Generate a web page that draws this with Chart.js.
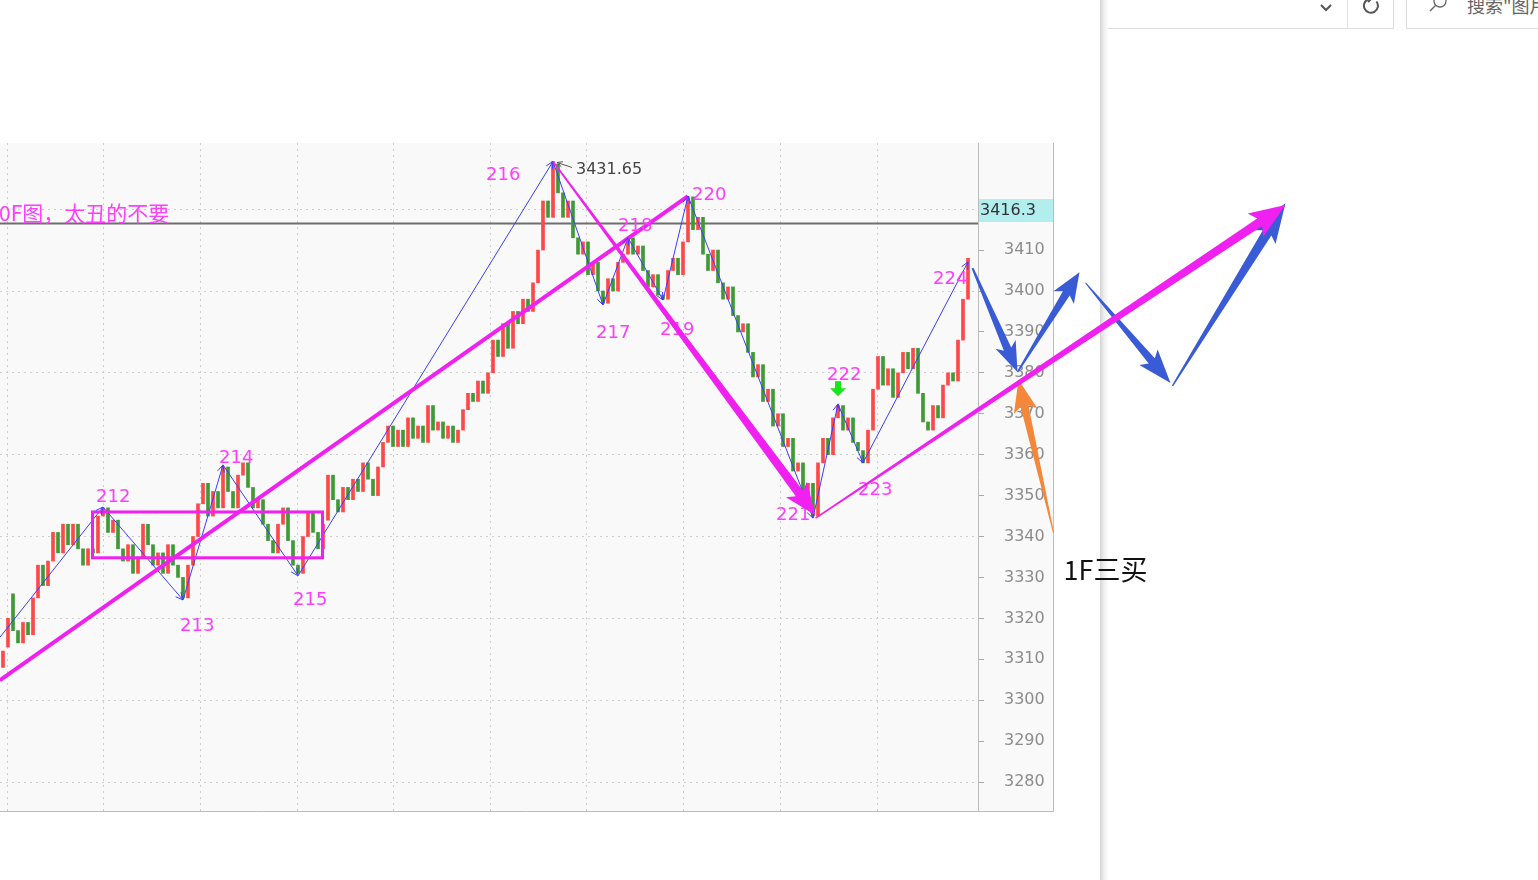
<!DOCTYPE html>
<html>
<head>
<meta charset="utf-8">
<script src="https://cdn.jsdelivr.net/npm/chart.js@4.4.1/dist/chart.umd.min.js"></script>
<style>
  html, body { margin: 0; padding: 0; background: #fff; overflow: hidden; width: 1538px; height: 880px; }
  #kline { position: absolute; left: 0; top: 0; width: 1538px; height: 880px; z-index: 2; }
  .sep { position: absolute; left: 1100px; top: 0; width: 9px; height: 880px; z-index: 1;
         background: linear-gradient(to right, #d4d4d4, #eeeeee 45%, #ffffff); }
  .addr { position: absolute; left: 1108px; top: -1px; width: 285px; height: 29px; z-index: 1;
          border-right: 1px solid #dcdcdc; border-bottom: 1px solid #dcdcdc; }
  .addr .div { position: absolute; left: 239px; top: 0; width: 1px; height: 29px; background: #e2e2e2; }
  .search { position: absolute; left: 1406px; top: -1px; width: 150px; height: 29px; z-index: 1;
            border-left: 1px solid #dcdcdc; border-bottom: 1px solid #dcdcdc; overflow: hidden; }
  .search span { position: absolute; left: 60px; top: -7px; font: 18px "Noto Sans CJK SC", sans-serif;
                 color: #666; white-space: nowrap; }
  svg { position: absolute; }
</style>
</head>
<body>
<canvas id="kline" width="1538" height="880"></canvas>
<div class="sep"></div>
<div class="addr">
  <svg style="left:210px;top:3px" width="16" height="12"><polyline points="3,3 8,8 13,3" fill="none" stroke="#555" stroke-width="2"/></svg>
  <div class="div"></div>
  <svg style="left:253px;top:-4px" width="22" height="22"><path d="M15.5 6.5 A7 7 0 1 1 8 4" fill="none" stroke="#555" stroke-width="2"/><polyline points="7,1 10,4 7,7" fill="none" stroke="#555" stroke-width="2"/></svg>
</div>
<div class="search">
  <svg style="left:20px;top:-6px" width="22" height="22"><circle cx="13" cy="8" r="6" fill="none" stroke="#666" stroke-width="1.3"/><line x1="8.5" y1="12.5" x2="3" y2="18" stroke="#666" stroke-width="1.5"/></svg>
  <span>搜索"图片"</span>
</div>
<script>
// one-minute candles, price
const opens = [
  3308, 3313, 3326, 3317, 3314, 3319, 3316, 3325, 3333, 3328, 3334, 3341, 3336, 3343, 3338, 3343, 3337, 3333, 3337, 3336,
  3345, 3347, 3341, 3344, 3337, 3334, 3338, 3331, 3335, 3343, 3338, 3333, 3336, 3331, 3338, 3333, 3330, 3325, 3333, 3340,
  3348, 3353, 3345, 3351, 3347, 3357, 3351, 3347, 3355, 3358, 3352, 3347, 3349, 3343, 3339, 3336, 3343, 3347, 3339, 3333,
  3331, 3340, 3346, 3341, 3337, 3344, 3355, 3349, 3346, 3352, 3349, 3354, 3351, 3358, 3354, 3350, 3357, 3363, 3367, 3362,
  3366, 3362, 3369, 3364, 3367, 3363, 3372, 3366, 3368, 3364, 3367, 3363, 3366, 3371, 3375, 3373, 3378, 3375, 3380, 3388,
  3384, 3392, 3386, 3395, 3392, 3398, 3395, 3402, 3410, 3422, 3418, 3431, 3424, 3418, 3422, 3413, 3409, 3412, 3404, 3407,
  3400, 3397, 3403, 3400, 3407, 3409, 3413, 3409, 3411, 3405, 3401, 3404, 3399, 3398, 3405, 3408, 3404, 3412, 3423, 3415,
  3418, 3409, 3405, 3410, 3402, 3398, 3401, 3394, 3390, 3392, 3385, 3379, 3382, 3373, 3376, 3367, 3370, 3362, 3364, 3356,
  3358, 3350, 3353, 3345, 3358, 3364, 3360, 3369, 3372, 3366, 3369, 3363, 3361, 3358, 3366, 3376, 3384, 3377, 3381, 3374,
  3380, 3385, 3381, 3386, 3375, 3368, 3366, 3372, 3369, 3377, 3380, 3378, 3388, 3398
];
const closes = [
  3312, 3320, 3317, 3314, 3319, 3316, 3325, 3333, 3328, 3334, 3341, 3336, 3343, 3338, 3343, 3337, 3333, 3337, 3336, 3345,
  3347, 3341, 3344, 3337, 3334, 3338, 3331, 3335, 3343, 3338, 3333, 3336, 3331, 3338, 3333, 3330, 3325, 3333, 3340, 3348,
  3353, 3345, 3351, 3347, 3357, 3351, 3347, 3355, 3358, 3352, 3347, 3349, 3343, 3339, 3336, 3343, 3347, 3339, 3333, 3331,
  3340, 3346, 3341, 3337, 3343, 3355, 3349, 3346, 3352, 3349, 3354, 3351, 3358, 3354, 3350, 3357, 3363, 3367, 3362, 3366,
  3362, 3369, 3364, 3367, 3363, 3372, 3366, 3368, 3364, 3367, 3363, 3366, 3371, 3375, 3373, 3378, 3375, 3380, 3388, 3384,
  3392, 3386, 3395, 3392, 3398, 3395, 3402, 3410, 3422, 3418, 3431.65, 3424, 3418, 3422, 3413, 3409, 3412, 3404, 3407, 3400,
  3397, 3403, 3400, 3407, 3409, 3413, 3409, 3411, 3405, 3401, 3404, 3399, 3398, 3405, 3408, 3404, 3412, 3423, 3415, 3418,
  3409, 3405, 3410, 3402, 3398, 3401, 3394, 3390, 3392, 3385, 3379, 3382, 3373, 3376, 3367, 3370, 3362, 3364, 3356, 3358,
  3350, 3353, 3345, 3358, 3364, 3360, 3369, 3372, 3366, 3369, 3363, 3361, 3358, 3366, 3376, 3384, 3377, 3381, 3374, 3380,
  3385, 3381, 3386, 3375, 3368, 3366, 3372, 3369, 3377, 3380, 3378, 3388, 3398, 3408
];

// zigzag strokes (bi) and their numbers
const biIdx = [-0.6, 20, 36, 44, 59, 110, 120, 125, 132, 137, 162, 167, 172, 193];
const biPrice = [3315.4, 3347.2, 3324.5, 3357.5, 3330.4, 3431.65, 3396.6, 3413.0, 3397.8, 3423.2, 3344.5, 3372.4, 3358.0, 3407.1];
const biLabels = ['', '212', '213', '214', '215', '216', '217', '218', '219', '220', '221', '222', '223', '224'];

// hand drawn marks
const trendIdx = [-0.6, 137];
const trendPrice = [3304.9, 3423.2];
const boxIdx = [17.9, 63.9];
const boxPrice = [3346.0, 3334.8];
const arrowFromIdx = [193.9, 202.9, 216.5, 233.9, 210.1, 110, 162.5];
const arrowFromPrice = [3405.6, 3380.2, 3402.0, 3376.8, 3340.9, 3431.65, 3344.5];
const arrowToIdx = [202.9, 215.3, 233.5, 256.5, 203.1, 162.5, 256.5];
const arrowToPrice = [3380.2, 3404.6, 3377.5, 3421.5, 3378.3, 3345.2, 3421.0];

const lastPrice = 3416.3;
const peakIdx = 110, peakPrice = 3431.65;
const signalIdx = 167, signalPrice = 3374.3;
const noteIdx = 212.1, notePrice = 3331.8, noteText = '1F三买';
const titleText = '0F图，太丑的不要';
const gridIdx = [0.8, 20.1, 39.4, 58.8, 78.1, 97.4, 116.8, 136.1, 155.4, 174.8];

const RED = '#ff4848', GREEN = '#3f9a36', ZIG = '#3c3cff';
const MAG = '#f020f0', LBL = '#ff3cff', BLUE = '#3a5bd6', ORANGE = '#f5873a';

// label offsets from the stroke ends (layout only)
const lblDx = [0, -7, -3, -4, -5, -67, -7, -10, -3, 4, -37, -11, -5, -35];
const lblDy = [0, -10, 26, -7, 25, 14, 28, -11, 30, -1, -3, -29, 27, 17];
const arrowStyle = [
  { color: BLUE, w0: 2, w1: 8, hl: 30, hw: 22 },
  { color: BLUE, w0: 1.5, w1: 8, hl: 30, hw: 24 },
  { color: BLUE, w0: 1, w1: 8, hl: 34, hw: 24 },
  { color: BLUE, w0: 1.5, w1: 10, hl: 40, hw: 26 },
  { color: ORANGE, w0: 1, w1: 8, hl: 32, hw: 24 },
  { color: MAG, w0: 1.5, w1: 9, hl: 32, hw: 26 },
  { color: MAG, w0: 1.5, w1: 9, hl: 36, hw: 28 }
];

function taperArrow(ctx, x0, y0, x1, y1, s) {
  const len = Math.hypot(x1 - x0, y1 - y0);
  const ux = (x1 - x0) / len, uy = (y1 - y0) / len, nx = -uy, ny = ux;
  const bx = x1 - ux * s.hl, by = y1 - uy * s.hl;
  const sx = bx + ux * 5, sy = by + uy * 5;
  ctx.beginPath();
  ctx.moveTo(x0 + nx * s.w0 / 2, y0 + ny * s.w0 / 2);
  ctx.lineTo(sx + nx * s.w1 / 2, sy + ny * s.w1 / 2);
  ctx.lineTo(bx + nx * s.hw / 2, by + ny * s.hw / 2);
  ctx.lineTo(x1, y1);
  ctx.lineTo(bx - nx * s.hw / 2, by - ny * s.hw / 2);
  ctx.lineTo(sx - nx * s.w1 / 2, sy - ny * s.w1 / 2);
  ctx.lineTo(x0 - nx * s.w0 / 2, y0 - ny * s.w0 / 2);
  ctx.closePath();
  ctx.fillStyle = s.color;
  ctx.fill();
}

function chevron(ctx, x0, y0, x1, y1, len) {
  const a = Math.atan2(y1 - y0, x1 - x0);
  ctx.beginPath();
  ctx.moveTo(x1 - len * Math.cos(a - 0.45), y1 - len * Math.sin(a - 0.45));
  ctx.lineTo(x1, y1);
  ctx.lineTo(x1 - len * Math.cos(a + 0.45), y1 - len * Math.sin(a + 0.45));
  ctx.stroke();
}

const overlay = {
  id: 'overlay',
  beforeDraw(chart) {
    const ctx = chart.ctx;
    ctx.save();
    ctx.fillStyle = '#f9f9f9';
    ctx.fillRect(0, 143, 1054, 668);
    ctx.restore();
  },
  beforeDatasetsDraw(chart) {
    const { ctx, chartArea, scales: { y } } = chart;
    const yy = Math.round(y.getPixelForValue(lastPrice)) - 0.5;
    ctx.save();
    ctx.strokeStyle = '#6e6e6e';
    ctx.lineWidth = 2;
    ctx.beginPath();
    ctx.moveTo(chartArea.left, yy);
    ctx.lineTo(chartArea.right, yy);
    ctx.stroke();
    ctx.restore();
  },
  afterDatasetsDraw(chart) {
    const { ctx, scales: { x, y } } = chart;
    ctx.save();
    // consolidation box
    const bx0 = x.getPixelForValue(boxIdx[0]), bx1 = x.getPixelForValue(boxIdx[1]);
    const by0 = y.getPixelForValue(boxPrice[0]), by1 = y.getPixelForValue(boxPrice[1]);
    ctx.strokeStyle = MAG;
    ctx.lineWidth = 3;
    ctx.strokeRect(bx0, by0, bx1 - bx0, by1 - by0);

    // arrow heads on the zigzag
    ctx.strokeStyle = ZIG;
    ctx.lineWidth = 1;
    for (let k = 1; k < biIdx.length; k++) {
      chevron(ctx, x.getPixelForValue(biIdx[k - 1]), y.getPixelForValue(biPrice[k - 1]),
        x.getPixelForValue(biIdx[k]), y.getPixelForValue(biPrice[k]), 8);
    }

    // stroke numbers
    ctx.font = '18px "DejaVu Sans"';
    ctx.fillStyle = LBL;
    ctx.textBaseline = 'middle';
    for (let k = 1; k < biIdx.length; k++) {
      ctx.fillText(biLabels[k], x.getPixelForValue(biIdx[k]) + lblDx[k], y.getPixelForValue(biPrice[k]) + lblDy[k]);
    }

    // high price note
    const px = x.getPixelForValue(peakIdx), py = y.getPixelForValue(peakPrice);
    ctx.strokeStyle = '#555';
    ctx.beginPath();
    ctx.moveTo(px + 19, py + 6);
    ctx.lineTo(px + 4, py + 1);
    ctx.stroke();
    chevron(ctx, px + 19, py + 6, px + 4, py + 1, 6);
    ctx.font = '16px "DejaVu Sans"';
    ctx.fillStyle = '#444';
    ctx.fillText(String(peakPrice), px + 23, py + 8);

    // buy signal arrow
    const sx = Math.round(x.getPixelForValue(signalIdx)), sy = y.getPixelForValue(signalPrice);
    ctx.fillStyle = '#19e619';
    ctx.fillRect(sx - 3, sy - 15, 6, 8);
    ctx.beginPath();
    ctx.moveTo(sx - 8, sy - 8);
    ctx.lineTo(sx + 8, sy - 8);
    ctx.lineTo(sx, sy);
    ctx.closePath();
    ctx.fill();

    // clipped title text on the left
    ctx.font = '21px "Noto Sans CJK SC"';
    ctx.fillStyle = LBL;
    ctx.fillText(titleText, -1, 213);
    ctx.restore();
  },
  afterDraw(chart) {
    const { ctx, chartArea, scales: { x, y } } = chart;
    ctx.save();
    // panel borders
    ctx.strokeStyle = '#bcbcbc';
    ctx.lineWidth = 1;
    ctx.beginPath();
    ctx.moveTo(1053.5, 143);
    ctx.lineTo(1053.5, 811.5);
    ctx.lineTo(0, 811.5);
    ctx.stroke();

    // last price tag
    const ly = Math.round(y.getPixelForValue(lastPrice)) - 1;
    ctx.fillStyle = '#b2eeee';
    ctx.fillRect(chartArea.right + 1, ly - 24, 74, 23);
    ctx.font = '16px "DejaVu Sans"';
    ctx.fillStyle = '#333';
    ctx.textBaseline = 'middle';
    ctx.fillText(lastPrice.toFixed(1), chartArea.right + 2, ly - 12);

    // hand drawn arrows
    for (let k = 0; k < arrowFromIdx.length; k++) {
      taperArrow(ctx, x.getPixelForValue(arrowFromIdx[k]), y.getPixelForValue(arrowFromPrice[k]),
        x.getPixelForValue(arrowToIdx[k]), y.getPixelForValue(arrowToPrice[k]), arrowStyle[k]);
    }

    // note
    ctx.font = '27px "Noto Sans CJK SC"';
    ctx.fillStyle = '#111';
    ctx.fillText(noteText, x.getPixelForValue(noteIdx), y.getPixelForValue(notePrice));
    ctx.restore();
  }
};

new Chart(document.getElementById('kline'), {
  type: 'bar',
  data: {
    datasets: [
      {
        type: 'line',
        data: trendIdx.map((v, i) => ({ x: v, y: trendPrice[i] })),
        borderColor: MAG,
        borderWidth: 4,
        pointRadius: 0,
        order: 1
      },
      {
        type: 'line',
        data: biIdx.map((v, i) => ({ x: v, y: biPrice[i] })),
        borderColor: ZIG,
        borderWidth: 1,
        pointRadius: 0,
        order: 2
      },
      {
        type: 'bar',
        data: opens.map((o, i) => ({ x: i, y: [o, closes[i]] })),
        backgroundColor: opens.map((o, i) => closes[i] >= o ? RED : GREEN),
        barThickness: 3,
        minBarLength: 2,
        order: 3
      }
    ]
  },
  options: {
    responsive: false,
    animation: false,
    events: [],
    layout: { padding: { left: 0, top: 143, right: 484, bottom: 69 } },
    plugins: { legend: { display: false }, tooltip: { enabled: false } },
    scales: {
      x: {
        type: 'linear',
        min: -0.6,
        max: 195,
        offset: false,
        afterBuildTicks: s => { s.ticks = gridIdx.map(v => ({ value: v })); },
        afterFit: s => { s.height = 0; },
        ticks: { display: false },
        grid: { color: '#cdcdcd', drawTicks: false, offset: false },
        border: { display: false, dash: [2, 4] }
      },
      y: {
        position: 'right',
        min: 3272.92,
        max: 3436.17,
        afterFit: s => { s.width = 76; },
        ticks: {
          stepSize: 10,
          includeBounds: false,
          padding: 20,
          color: '#8c8c8c',
          font: { family: 'DejaVu Sans', size: 16 },
          callback: v => (v > 3410 ? '' : String(v))
        },
        grid: {
          color: c => (c.tick && c.tick.value % 20 === 0 ? '#cdcdcd' : 'rgba(0,0,0,0)'),
          tickColor: c => (c.tick && c.tick.value > 3410 ? 'rgba(0,0,0,0)' : '#a8a8a8'),
          tickLength: 6
        },
        border: { color: '#bcbcbc', dash: [2, 4] }
      }
    }
  },
  plugins: [overlay]
});
</script>
</body>
</html>
